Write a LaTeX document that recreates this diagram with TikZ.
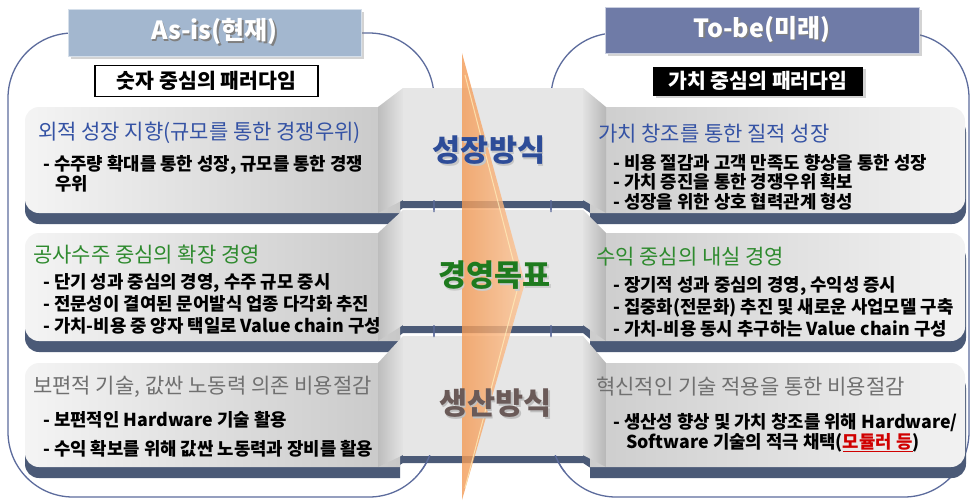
\documentclass[tikz,border=0pt]{standalone}
\usepackage{fontspec}
\setmainfont{Noto Sans CJK KR}
\usetikzlibrary{shadows}
\definecolor{outl}{HTML}{5C6B9C}
\definecolor{hdrA}{HTML}{A3B7CF}
\definecolor{hdrAb}{HTML}{D5DFEA}
\definecolor{hdrB}{HTML}{6F7BA7}
\definecolor{hdrBb}{HTML}{C9CEDF}
\definecolor{band}{HTML}{4B5A77}
\definecolor{tblue}{HTML}{3452A4}
\definecolor{tgreen}{HTML}{2E8A2E}
\definecolor{tgray}{HTML}{707070}
\definecolor{cblue}{HTML}{2D4C98}
\definecolor{cgreen}{HTML}{1E7A1E}
\definecolor{cbrown}{HTML}{6A5A58}
\definecolor{or1}{HTML}{F39A55}
\definecolor{or2}{HTML}{FDC698}
\definecolor{orhl}{HTML}{FFEBB8}
\definecolor{redt}{HTML}{D00000}
\definecolor{pL1}{HTML}{F4F4F4}
\definecolor{pL2}{HTML}{C8C8C8}
\definecolor{pR1}{HTML}{CDCDCD}
\definecolor{pR2}{HTML}{F2F2F2}
\definecolor{wL1}{HTML}{BDBDBD}
\definecolor{wL2}{HTML}{E4E4E4}
\definecolor{wR1}{HTML}{E2E2E2}
\definecolor{wR2}{HTML}{B7B7B7}
\definecolor{cE}{HTML}{E6E6E6}
\newcommand\shtxt[3]{\rlap{\hspace{1.5pt}\raisebox{-1.5pt}{\textcolor{#2}{#3}}}\textcolor{#1}{#3}}
\newcommand\drawrowshadow[4]{%
  \fill[band, rounded corners=14pt] (400,#1+11) -- (25,#1+11) -- (25,#2+11) -- (400,#2+11);
  \fill[band, rounded corners=14pt] (590,#1+11) -- (966,#1+11) -- (966,#2+11) -- (590,#2+11);
  \fill[band] (378,#1+10) -- (403,#3+8) -- (583,#3+8) -- (606,#1+10) -- (606,#2+11) -- (583,#4+8) -- (403,#4+8) -- (378,#2+11) -- cycle;
}
\newcommand\drawrowbody[4]{%
  \path[left color=pL1, right color=pL2, rounded corners=14pt] (400,#1) -- (25,#1) -- (25,#2) -- (400,#2);
  \path[left color=pR1, right color=pR2, rounded corners=14pt] (590,#1) -- (965,#1) -- (965,#2) -- (590,#2);
  \path[left color=wL1, right color=wL2] (378,#1) -- (403,#3) -- (403,#4) -- (378,#2) -- cycle;
  \path[left color=wR1, right color=wR2] (583,#3) -- (606,#1) -- (606,#2) -- (583,#4) -- cycle;
  \path[left color=cE, middle color=white, right color=cE] (403,#3) rectangle (583,#4);
}
\begin{document}
\begin{tikzpicture}[x=1pt,y=-1pt,
  outline/.style={draw=outl, line width=1.3pt, rounded corners=65pt},
  ttl/.style={anchor=base west, inner sep=0pt, font=\fontsize{21}{24}\selectfont},
  bul/.style={anchor=base west, inner sep=0pt, font=\fontsize{17.8}{20}\selectfont\bfseries},
  clab/.style={inner sep=0pt, font=\fontsize{30.5}{32}\selectfont\bfseries},
  hdr/.style={line width=0.8pt, inner sep=0pt, drop shadow={opacity=0.35}, font=\fontsize{25}{27}\selectfont\bfseries},
  sub/.style={inner sep=0pt, font=\fontsize{20.5}{22}\selectfont\bfseries}]
\useasboundingbox (0,0) rectangle (972,501);

% big outlines
\draw[outline] (8,33) rectangle (434,497);
\draw[outline] (551,33) rectangle (969,497);

% headers
\node[hdr, draw=hdrAb, fill=hdrA, minimum width=293pt, minimum height=47pt] (asis) at (214.5,32.5) {\shtxt{white}{black!50}{As-is(현재)}};
\node[hdr, draw=hdrBb, fill=hdrB, minimum width=314pt, minimum height=46pt] (tobe) at (762,30) {\shtxt{white}{black!50}{To-be(미래)}};

% subtitles
\node[sub, draw=black, line width=1.5pt, fill=white, minimum width=223pt, minimum height=31pt] (sub1) at (206.5,81) {숫자 중심의 패러다임};
\node[sub, fill=black, text=white, drop shadow={opacity=0.35}, minimum width=210pt, minimum height=29pt] (sub2) at (758,81) {가치 중심의 패러다임};

% rows
\drawrowshadow{107}{213}{88}{200}
\drawrowshadow{233}{341}{210}{325}
\drawrowshadow{363}{467}{336}{455}
\drawrowbody{107}{213}{88}{200}
\drawrowbody{233}{341}{210}{325}
\drawrowbody{363}{467}{336}{455}

% outline pieces visible over the bands
\begin{scope}
  \clip (403,200) rectangle (583,212) (403,325) rectangle (583,337) (380,455) rectangle (606,472);
  \draw[outline] (8,33) rectangle (434,497);
  \draw[outline] (551,33) rectangle (969,497);
\end{scope}

% orange arrow
\path[left color=or1, right color=or2, opacity=0.8] (462,53) -- (525,283) -- (462,500) -- cycle;
\draw[orhl, line width=1pt, opacity=0.8] (465,75) -- (519,283) -- (465,488);

% center labels
\node[clab] (c1) at (489,151) {\shtxt{cblue}{gray!45}{성장방식}};
\node[clab] (c2) at (494.5,276) {\shtxt{cgreen}{gray!40}{경영목표}};
\node[clab] (c3) at (495.5,404) {\shtxt{cbrown}{gray!50}{생산방식}};

% row 1
\node[ttl, text=tblue] (l1t) at (38,139) {외적 성장 지향(규모를 통한 경쟁우위)};
\node[bul] (l1a) at (43,170) {- 수주량 확대를 통한 성장, 규모를 통한 경쟁};
\node[bul] (l1b) at (55,190) {우위};
\node[ttl, text=tblue] (r1t) at (598,141) {가치 창조를 통한 질적 성장};
\node[bul] (r1a) at (613,169) {- 비용 절감과 고객 만족도 향상을 통한 성장};
\node[bul] (r1b) at (613,188.5) {- 가치 증진을 통한 경쟁우위 확보};
\node[bul] (r1c) at (613,208) {- 성장을 위한 상호 협력관계 형성};

% row 2
\node[ttl, text=tgreen] (l2t) at (33,262) {공사수주 중심의 확장 경영};
\node[bul] (l2a) at (43,288.5) {- 단기 성과 중심의 경영, 수주 규모 중시};
\node[bul] (l2b) at (43,310.5) {- 전문성이 결여된 문어발식 업종 다각화 추진};
\node[bul] (l2c) at (43,332) {- 가치-비용 중 양자 택일로 Value chain 구성};
\node[ttl, text=tgreen] (r2t) at (596,264) {수익 중심의 내실 경영};
\node[bul] (r2a) at (613,291.5) {- 장기적 성과 중심의 경영, 수익성 증시};
\node[bul] (r2b) at (613,313.5) {- 집중화(전문화) 추진 및 새로운 사업모델 구축};
\node[bul] (r2c) at (613,335.5) {- 가치-비용 동시 추구하는 Value chain 구성};

% row 3
\node[ttl, text=tgray] (l3t) at (33,393) {보편적 기술, 값싼 노동력 의존 비용절감};
\node[bul] (l3a) at (43,426.5) {- 보편적인 Hardware 기술 활용};
\node[bul] (l3b) at (43,455.5) {- 수익 확보를 위해 값싼 노동력과 장비를 활용};
\node[ttl, text=tgray] (r3t) at (596,394) {혁신적인 기술 적용을 통한 비용절감};
\node[bul] (r3a) at (613,428.5) {- 생산성 향상 및 가치 창조를 위해 Hardware/};
\node[bul] (r3b) at (626,448.5) {Software 기술의 적극 채택(\textcolor{redt}{\underline{모듈러 등}})};
\end{tikzpicture}
\end{document}
